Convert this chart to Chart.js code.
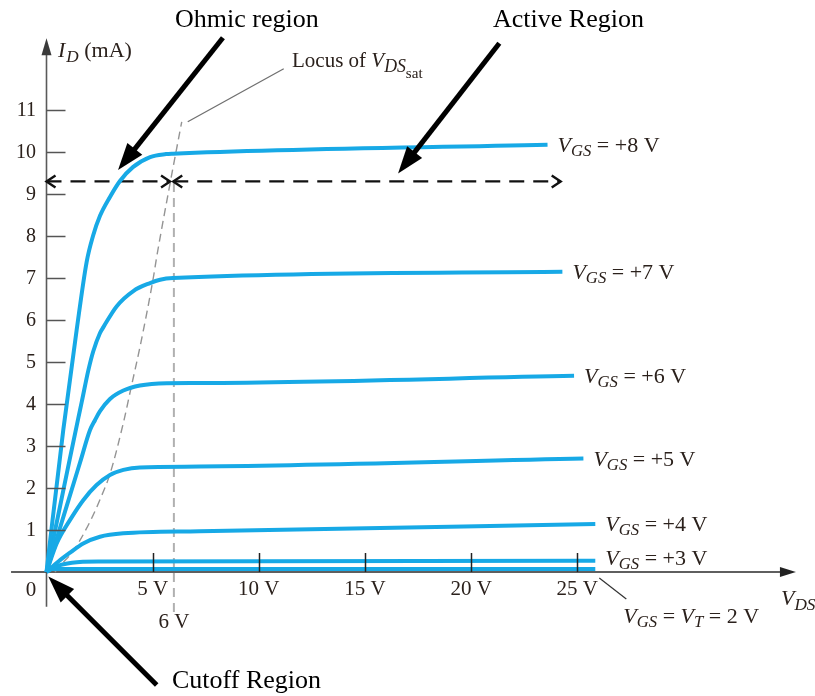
<!DOCTYPE html>
<html>
<head>
<meta charset="utf-8">
<script src="https://cdn.jsdelivr.net/npm/chart.js@4.4.1/dist/chart.umd.min.js"></script>
<style>
  html, body { margin: 0; padding: 0; background: #fff; }
  canvas { display: block; }
</style>
</head>
<body>
<canvas id="chart" width="815" height="696"></canvas>
<script>
// Drain characteristics of an n-channel enhancement MOSFET (I_D in mA vs V_DS in V)

const xTickValues = [5, 10, 15, 20, 25];
const yTickValues = [1, 2, 3, 4, 5, 6, 7, 8, 9, 10, 11];

// one curve per gate-source voltage
const vdsG8 = [0, 0.79, 1.42, 1.89, 2.19, 2.52, 2.99, 3.46, 4.07, 4.88, 5.63, 5.96, 23.6];
const idG8  = [0, 3.38, 5.76, 7.38, 8.0, 8.48, 8.93, 9.31, 9.64, 9.88, 9.95, 9.96, 10.17];

const vdsG7 = [0, 0.6, 1.1, 1.5, 1.66, 1.97, 2.2, 2.52, 2.68, 3.31, 4.09, 4.88, 5.35, 5.96, 24.3];
const idG7  = [0, 1.47, 2.7, 3.67, 4.05, 4.8, 5.25, 5.69, 5.83, 6.33, 6.69, 6.88, 6.96, 7.0, 7.15];

const vdsG6 = [0, 0.95, 1.6, 2.05, 2.29, 2.52, 2.99, 3.62, 4.4, 5.66, 7.23, 24.85];
const idG6  = [0, 1.57, 2.64, 3.38, 3.62, 3.83, 4.12, 4.32, 4.44, 4.495, 4.5, 4.67];

const vdsG5 = [0, 0.48, 1.11, 1.73, 2.36, 2.99, 3.62, 4.4, 7.2, 25.29];
const idG5  = [0, 0.68, 1.24, 1.71, 2.07, 2.31, 2.43, 2.49, 2.51, 2.70];

const vdsG4 = [0, 0.56, 1.11, 1.73, 2.52, 3.62, 7.2, 25.85];
const idG4  = [0, 0.25, 0.46, 0.68, 0.84, 0.92, 0.97, 1.14];

const vdsG3 = [0, 0.5, 1.2, 2.5, 25.85];
const idG3  = [0, 0.14, 0.22, 0.25, 0.27];

const vdsG2 = [0, 25.85];
const idG2  = [0.07, 0.07];

const gateLevels = ['+8', '+7', '+6', '+5', '+4', '+3'];

// locus of V_DS(sat) and the 6 V boundary of the +8 V curve
const vdsLocus = [0.4, 0.64, 1.26, 2.05, 2.6, 3.0, 3.62, 4.01, 4.4, 5.03, 5.19, 5.82, 6.37];
const idLocus  = [0, 0.15, 0.5, 1.2, 1.82, 2.35, 3.55, 4.45, 5.35, 7.0, 7.5, 9.25, 10.72];
const vdsSatMark = [6, 6];
const idSatMark  = [-0.95, 9.28];

// region spans (double-headed dashed arrows)
const vdsOhmicSpan  = [0, 5.82];
const vdsActiveSpan = [5.97, 24.22];
const idSpanLevel = 9.3;

// region call-out arrows: [tail V_DS, tail I_D, tip V_DS, tip I_D]
const ohmicArrow  = [8.31, 12.72, 3.37, 9.57];
const activeArrow = [21.33, 12.59, 16.56, 9.49];
const cutoffArrow = [5.19, -2.69, 0.085, -0.11];

// axis extents drawn with arrowheads
const xAxisExtent = [-1.67, 35.3];
const yAxisExtent = [-0.83, 12.71];

// where the origin sits on the canvas and the pixels per unit
const frame = { originX: 46.5, pxPerVolt: 21.23, originY: 572, pxPerMilliamp: 42 };

const BLUE = '#17a9e6';
const TEXT = '#2b211c';
const SERIF = '"Liberation Serif", "Times New Roman", serif';

const pts = (xs, ys) => xs.map((x, i) => ({ x: x, y: ys[i] }));

const curveStyle = {
  borderColor: BLUE, borderWidth: 4, pointRadius: 0,
  cubicInterpolationMode: 'monotone', fill: false, borderCapStyle: 'butt'
};

const datasets = [
  Object.assign({ label: 'VGS +8', data: pts(vdsG8, idG8) }, curveStyle),
  Object.assign({ label: 'VGS +7', data: pts(vdsG7, idG7) }, curveStyle),
  Object.assign({ label: 'VGS +6', data: pts(vdsG6, idG6) }, curveStyle),
  Object.assign({ label: 'VGS +5', data: pts(vdsG5, idG5) }, curveStyle),
  Object.assign({ label: 'VGS +4', data: pts(vdsG4, idG4) }, curveStyle),
  Object.assign({ label: 'VGS +3', data: pts(vdsG3, idG3) }, curveStyle),
  Object.assign({ label: 'VGS 2', data: pts(vdsG2, idG2) }, curveStyle, { cubicInterpolationMode: 'default', tension: 0 }),
  { label: 'locus', data: pts(vdsLocus, idLocus), borderColor: '#949494', borderWidth: 1.4,
    borderDash: [8, 5], pointRadius: 0, cubicInterpolationMode: 'monotone' },
  { label: 'sat6', data: pts(vdsSatMark, idSatMark), borderColor: '#b0b0b0', borderWidth: 2,
    borderDash: [9, 6], pointRadius: 0, tension: 0 },
  { label: 'ohmicSpan', data: pts(vdsOhmicSpan, [idSpanLevel, idSpanLevel]), borderColor: '#111',
    borderWidth: 2.4, borderDash: [15, 9], pointRadius: 0, tension: 0 },
  { label: 'activeSpan', data: pts(vdsActiveSpan, [idSpanLevel, idSpanLevel]), borderColor: '#111',
    borderWidth: 2.4, borderDash: [15, 9], pointRadius: 0, tension: 0 }
];

function drawRuns(ctx, x, y, parts, size) {
  let cx = x;
  for (const p of parts) {
    const s = size * (p.scale || 1);
    ctx.font = (p.it ? 'italic ' : '') + s.toFixed(1) + 'px ' + SERIF;
    ctx.fillText(p.t, cx, y + (p.dy || 0));
    cx += ctx.measureText(p.t).width + (p.kern || 0);
  }
  return cx;
}

function filledHead(ctx, tx, ty, fx, fy, len, half) {
  const a = Math.atan2(ty - fy, tx - fx);
  const bx = tx - len * Math.cos(a), by = ty - len * Math.sin(a);
  ctx.beginPath();
  ctx.moveTo(tx, ty);
  ctx.lineTo(bx + half * Math.sin(a), by - half * Math.cos(a));
  ctx.lineTo(bx - half * Math.sin(a), by + half * Math.cos(a));
  ctx.closePath();
  ctx.fill();
}

function openHead(ctx, tx, ty, dir, len, half) {
  ctx.beginPath();
  ctx.moveTo(tx - dir * len, ty - half);
  ctx.lineTo(tx, ty);
  ctx.lineTo(tx - dir * len, ty + half);
  ctx.stroke();
}

const overlay = {
  id: 'overlay',
  beforeDatasetsDraw(chart) {
    const ctx = chart.ctx, X = chart.scales.x, Y = chart.scales.y;
    const x0 = X.getPixelForValue(0), y0 = Y.getPixelForValue(0);
    ctx.save();
    // vertical axis
    ctx.strokeStyle = '#5a5a5a'; ctx.fillStyle = '#3a3a3a'; ctx.lineWidth = 1.6;
    const yTop = Y.getPixelForValue(yAxisExtent[1]);
    ctx.beginPath();
    ctx.moveTo(x0, Y.getPixelForValue(yAxisExtent[0]));
    ctx.lineTo(x0, yTop + 10);
    ctx.stroke();
    filledHead(ctx, x0, yTop, x0, yTop + 20, 17, 5);
    // horizontal axis
    ctx.strokeStyle = '#2a2a2a'; ctx.fillStyle = '#222';
    const xEnd = X.getPixelForValue(xAxisExtent[1]);
    ctx.beginPath();
    ctx.moveTo(X.getPixelForValue(xAxisExtent[0]), y0);
    ctx.lineTo(xEnd - 10, y0);
    ctx.stroke();
    filledHead(ctx, xEnd, y0, xEnd - 20, y0, 16, 5);

    // vertical-axis tick labels, set off to the left of the axis
    ctx.fillStyle = TEXT;
    ctx.font = '20px ' + SERIF;
    ctx.textAlign = 'right'; ctx.textBaseline = 'middle';
    for (const v of yTickValues) {
      ctx.fillText(String(v), x0 - 10.5, Y.getPixelForValue(v) + 1);
    }
    ctx.restore();
  },
  afterDatasetsDraw(chart) {
    const ctx = chart.ctx, X = chart.scales.x, Y = chart.scales.y;
    const x0 = X.getPixelForValue(0), y0 = Y.getPixelForValue(0);
    ctx.save();

    // tick marks, pointing into the plot
    ctx.lineWidth = 1.5;
    ctx.strokeStyle = '#555';
    for (const v of yTickValues) {
      const y = Math.round(Y.getPixelForValue(v)) + 0.5;
      ctx.beginPath(); ctx.moveTo(x0, y); ctx.lineTo(x0 + 19, y); ctx.stroke();
    }
    ctx.strokeStyle = '#222';
    for (const v of xTickValues) {
      const x = Math.round(X.getPixelForValue(v)) + 0.5;
      ctx.beginPath(); ctx.moveTo(x, y0); ctx.lineTo(x, y0 - 19); ctx.stroke();
    }

    // open heads on the dashed region spans
    ctx.strokeStyle = '#111'; ctx.lineWidth = 2.4; ctx.setLineDash([]);
    for (const name of ['ohmicSpan', 'activeSpan']) {
      const idx = chart.data.datasets.findIndex(d => d.label === name);
      const p = chart.getDatasetMeta(idx).data;
      const a = p[0], b = p[p.length - 1];
      openHead(ctx, a.x, a.y, -1, 9, 6);
      openHead(ctx, b.x, b.y, 1, 9, 6);
    }

    // region call-out arrows
    ctx.strokeStyle = '#000'; ctx.fillStyle = '#000'; ctx.lineWidth = 5; ctx.lineCap = 'butt';
    for (const arr of [ohmicArrow, activeArrow, cutoffArrow]) {
      const fx = X.getPixelForValue(arr[0]), fy = Y.getPixelForValue(arr[1]);
      const tx = X.getPixelForValue(arr[2]), ty = Y.getPixelForValue(arr[3]);
      const a = Math.atan2(ty - fy, tx - fx);
      ctx.beginPath();
      ctx.moveTo(fx, fy);
      ctx.lineTo(tx - 20 * Math.cos(a), ty - 20 * Math.sin(a));
      ctx.stroke();
      filledHead(ctx, tx, ty, fx, fy, 27, 9.5);
    }

    // region titles
    ctx.fillStyle = '#000';
    ctx.textBaseline = 'alphabetic';
    ctx.textAlign = 'left';
    ctx.font = '26px ' + SERIF;
    ctx.fillText('Ohmic region', 175, 27);
    ctx.fillText('Active Region', 493, 27);
    ctx.fillText('Cutoff Region', 172, 688);

    // locus label and leader
    ctx.strokeStyle = '#707070'; ctx.lineWidth = 1.3;
    const lx = X.getPixelForValue(vdsLocus[vdsLocus.length - 1]);
    const ly = Y.getPixelForValue(idLocus[idLocus.length - 1]);
    ctx.beginPath(); ctx.moveTo(lx + 6, ly); ctx.lineTo(lx + 102, ly - 53); ctx.stroke();
    ctx.fillStyle = TEXT;
    drawRuns(ctx, 292, 67, [
      { t: 'Locus of ' }, { t: 'V', it: true },
      { t: 'DS', it: true, scale: 0.85, dy: 5 }, { t: 'sat', scale: 0.72, dy: 11 }
    ], 21);

    // axis titles
    drawRuns(ctx, 58, 57, [
      { t: 'I', it: true, kern: 1 }, { t: 'D', it: true, scale: 0.78, dy: 5 }, { t: ' (mA)' }
    ], 22);
    drawRuns(ctx, 781, 605, [
      { t: 'V', it: true }, { t: 'DS', it: true, scale: 0.78, dy: 5 }
    ], 22);

    // origin and 6 V marks
    ctx.font = '21px ' + SERIF;
    ctx.textAlign = 'center'; ctx.textBaseline = 'middle';
    ctx.fillText('0', x0 - 15.5, y0 + 18);
    ctx.fillText('6 V', X.getPixelForValue(vdsSatMark[0]), y0 + 50);
    ctx.textAlign = 'left'; ctx.textBaseline = 'alphabetic';

    // gate-voltage labels at the end of each curve
    gateLevels.forEach((lvl, i) => {
      const meta = chart.getDatasetMeta(i);
      const last = meta.data[meta.data.length - 1];
      const dy = lvl === '+3' ? -3 : 0;
      drawRuns(ctx, last.x + 10, last.y + dy + 7.3, [
        { t: 'V', it: true }, { t: 'GS', it: true, scale: 0.76, dy: 4 }, { t: ' = ' + lvl + ' V' }
      ], 22);
    });
    // threshold curve label with leader
    const m2 = chart.getDatasetMeta(6);
    const e2 = m2.data[m2.data.length - 1];
    ctx.strokeStyle = '#333'; ctx.lineWidth = 1.2;
    ctx.beginPath(); ctx.moveTo(e2.x + 4, e2.y + 9); ctx.lineTo(e2.x + 31, e2.y + 30); ctx.stroke();
    drawRuns(ctx, e2.x + 28, e2.y + 54, [
      { t: 'V', it: true }, { t: 'GS', it: true, scale: 0.76, dy: 4 }, { t: ' = ' },
      { t: 'V', it: true }, { t: 'T', it: true, scale: 0.76, dy: 4 }, { t: ' = 2 V' }
    ], 22);

    ctx.restore();
  }
};

const chart = new Chart(document.getElementById('chart'), {
  type: 'line',
  data: { datasets: datasets },
  options: {
    responsive: false,
    animation: false,
    events: [],
    layout: { padding: 0 },
    plugins: { legend: { display: false }, tooltip: { enabled: false } },
    scales: {
      x: {
        type: 'linear', min: -2.19, max: 36.2, position: { y: 0 },
        grid: { display: false, drawTicks: false }, border: { display: false },
        ticks: {
          autoSkip: false, maxRotation: 0, padding: 5, color: TEXT,
          font: { family: SERIF, size: 21 },
          callback: v => v + ' V'
        },
        afterBuildTicks: s => { s.ticks = xTickValues.map(v => ({ value: v })); }
      },
      y: {
        type: 'linear', min: -2.95, max: 13.62, position: { x: 0 },
        grid: { display: false, drawTicks: false }, border: { display: false },
        ticks: { display: false },
        afterBuildTicks: s => { s.ticks = yTickValues.map(v => ({ value: v })); }
      }
    }
  },
  plugins: [overlay]
});

// set the axis ranges so the origin and unit spacing land where the frame says
for (let pass = 0; pass < 2; pass++) {
  const area = chart.chartArea;
  const sx = chart.options.scales.x, sy = chart.options.scales.y;
  sx.min = (area.left - frame.originX) / frame.pxPerVolt;
  sx.max = (area.right - frame.originX) / frame.pxPerVolt;
  sy.max = (frame.originY - area.top) / frame.pxPerMilliamp;
  sy.min = (frame.originY - area.bottom) / frame.pxPerMilliamp;
  chart.update();
}
</script>
</body>
</html>
